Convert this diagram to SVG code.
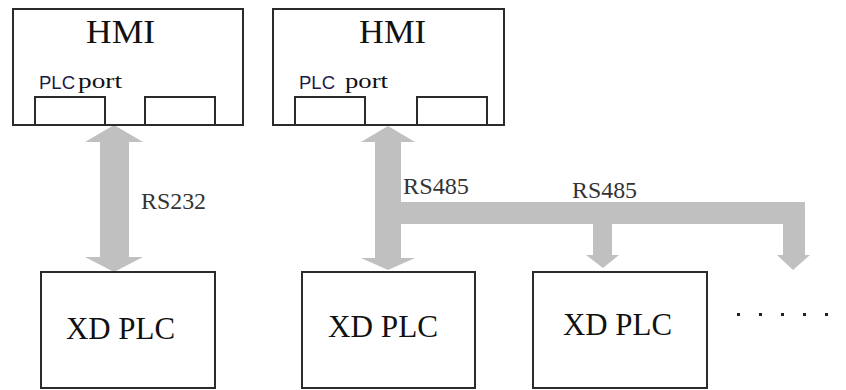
<svg xmlns="http://www.w3.org/2000/svg" width="846" height="390" viewBox="0 0 846 390">
<style>
.box{fill:#fff;stroke:#2b2b2b;stroke-width:2}
.port{fill:none;stroke:#2b2b2b;stroke-width:2}
.arrow{fill:#c0c0c0;stroke:none}
.serif{fill:#111}
.sans{fill:#1a1a4a}
.lbl{fill:#333;font-size:23px}
</style>
<rect width="846" height="390" fill="#fff"/>
<g id="connectors">
<path class="arrow" d="M114,125 L143,142 L129,142 L129,257 L143,257 L114,272 L85,257 L100,257 L100,142 L85,142 Z"/>
<path class="arrow" d="M388,126 L415,142 L401,142 L401,202 L805,202 L805,255 L810,255 L793,270 L777,255 L783,255 L783,224 L612,224 L612,255 L619,255 L603,268 L586,255 L593,255 L593,224 L401,224 L401,258 L415,258 L388,270 L361,258 L375,258 L375,142 L361,142 Z"/>
<text class="lbl" font-family="'Liberation Serif', 'Times New Roman', serif" x="141" y="209" textLength="65" lengthAdjust="spacingAndGlyphs">RS232</text>
<text class="lbl" font-family="'Liberation Serif', 'Times New Roman', serif" x="403" y="194" textLength="66" lengthAdjust="spacingAndGlyphs">RS485</text>
<text class="lbl" font-family="'Liberation Serif', 'Times New Roman', serif" x="572" y="198" textLength="65" lengthAdjust="spacingAndGlyphs">RS485</text>
</g>
<g id="hmi1">
<rect class="box" x="13" y="9" width="230" height="116"/>
<path class="port" d="M35,125 V97 H105 V125 M145,125 V97 H215 V125"/>
<text class="serif" font-family="'Liberation Serif', 'Times New Roman', serif" x="86" y="43" font-size="34" textLength="69" lengthAdjust="spacingAndGlyphs">HMI</text>
<text class="sans" font-family="'Liberation Sans', Arial, sans-serif" x="39" y="89" font-size="18" textLength="36" lengthAdjust="spacingAndGlyphs">PLC</text>
<text class="serif" font-family="'Liberation Serif', 'Times New Roman', serif" x="78" y="88" font-size="22" textLength="44" lengthAdjust="spacingAndGlyphs">port</text>
</g>
<g id="hmi2">
<rect class="box" x="273" y="9" width="231" height="116"/>
<path class="port" d="M295,125 V97 H365 V125 M417,125 V97 H487 V125"/>
<text class="serif" font-family="'Liberation Serif', 'Times New Roman', serif" x="359" y="43" font-size="34" textLength="67" lengthAdjust="spacingAndGlyphs">HMI</text>
<text class="sans" font-family="'Liberation Sans', Arial, sans-serif" x="299" y="89" font-size="18" textLength="36" lengthAdjust="spacingAndGlyphs">PLC</text>
<text class="serif" font-family="'Liberation Serif', 'Times New Roman', serif" x="345" y="88" font-size="22" textLength="43" lengthAdjust="spacingAndGlyphs">port</text>
</g>
<g id="plc1">
<rect class="box" x="41" y="272" width="174" height="116"/>
<text class="serif" font-family="'Liberation Serif', 'Times New Roman', serif" x="66" y="339" font-size="31" textLength="109" lengthAdjust="spacingAndGlyphs">XD PLC</text>
</g>
<g id="plc2">
<rect class="box" x="302" y="272" width="173" height="116"/>
<text class="serif" font-family="'Liberation Serif', 'Times New Roman', serif" x="328" y="337" font-size="31" textLength="110" lengthAdjust="spacingAndGlyphs">XD PLC</text>
</g>
<g id="plc3">
<rect class="box" x="533" y="272" width="174" height="116"/>
<text class="serif" font-family="'Liberation Serif', 'Times New Roman', serif" x="563" y="335" font-size="31" textLength="109" lengthAdjust="spacingAndGlyphs">XD PLC</text>
</g>
<g id="dots" fill="#222">
<rect x="737" y="313" width="3" height="3"/>
<rect x="759" y="313" width="3" height="3"/>
<rect x="781" y="313" width="3" height="3"/>
<rect x="803" y="313" width="3" height="3"/>
<rect x="825" y="313" width="3" height="3"/>
</g>
</svg>
